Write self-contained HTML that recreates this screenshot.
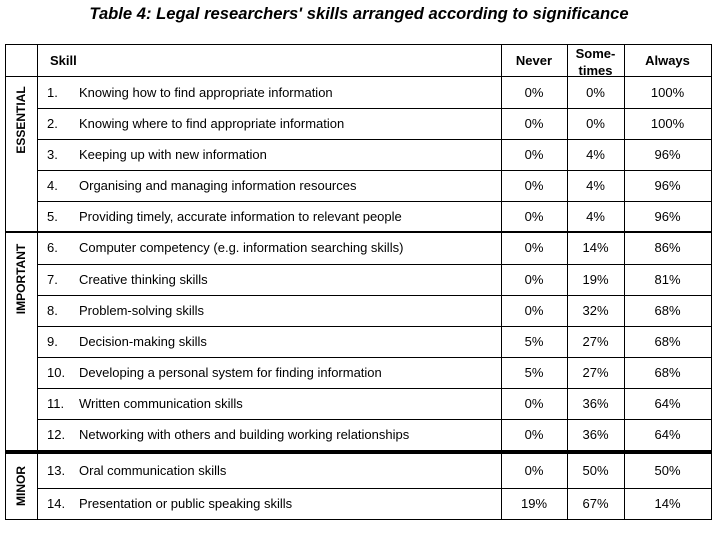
<!DOCTYPE html>
<html><head><meta charset="utf-8"><style>
body{margin:0;width:718px;height:527px;background:#fff;font-family:"Liberation Sans",Arial,sans-serif;color:#000;position:relative;overflow:hidden}
.title{position:absolute;top:4px;left:0;width:718px;text-align:center;font-size:16.6px;font-weight:bold;font-style:italic}
.h{position:absolute;background:#000}
.t{position:absolute;font-size:13px;white-space:nowrap;line-height:15px}
.c{text-align:center}
.b{font-weight:bold}
.v{position:absolute;font-size:12px;font-weight:bold;transform:rotate(-90deg);transform-origin:center;white-space:nowrap;text-align:center;width:120px;line-height:14px}
</style></head><body>
<div class="title">Table 4: Legal researchers' skills arranged according to significance</div>
<div id="tbl"></div>
<script>
const skills=["Knowing how to find appropriate information","Knowing where to find appropriate information","Keeping up with new information","Organising and managing information resources","Providing timely, accurate information to relevant people","Computer competency (e.g. information searching skills)","Creative thinking skills","Problem-solving skills","Decision-making skills","Developing a personal system for finding information","Written communication skills","Networking with others and building working relationships","Oral communication skills","Presentation or public speaking skills"];
const never=[0,0,0,0,0,0,0,0,5,5,0,0,0,19];
const sometimes=[0,0,4,4,4,14,19,32,27,27,36,36,50,67];
const always=[100,100,96,96,96,86,81,68,68,68,64,64,50,14];
const tbl=document.getElementById('tbl');
function line(x,y,w,h,name){const d=document.createElement('div');d.className='h';d.style.cssText=`left:${x}px;top:${y}px;width:${w}px;height:${h}px`;


tbl.appendChild(d);}
function txt(x,y,w,s,cls,name){const d=document.createElement('div');d.className='t '+(cls||'');d.style.left=x+'px';d.style.top=y+'px';if(w)d.style.width=w+'px';d.textContent=s;


tbl.appendChild(d);return d;}
const tops=[77,108,139,170,201,232,264,295,326,357,388,419,454,488];
const bots=[108,139,170,201,232,264,295,326,357,388,419,450,488,519];
line(5,44,707,1,'top-border');line(5,44,1,476,'left-border');line(711,44,1,476,'right-border');line(5,519,707,1,'bottom-border');
line(37,44,1,476,'group-divider');line(501,44,1,476,'never-divider');line(567,44,1,476,'sometimes-divider');line(624,44,1,476,'always-divider');
line(5,76,707,1,'header-rule');
for(let i=0;i<14;i++){
  if(i!==4&&i!==11&&i!==13) line(37,bots[i],675,1,'row-rule');
  const ty=Math.round((tops[i]+bots[i])/2)-8;
  txt(47,ty,0,(i+1)+'.','', 'skill-number');
  txt(79,ty,0,skills[i],'','skill-name');
  txt(501,ty,66,never[i]+'%','c','never-value');
  txt(567,ty,57,sometimes[i]+'%','c','sometimes-value');
  txt(624,ty,87,always[i]+'%','c','always-value');
}
line(5,231,707,2,'essential-rule');
line(5,450,707,4,'important-rule');
txt(50,53,0,'Skill','b','skill-header');
txt(501,53,66,'Never','c b','never-header');
const s=txt(567,45,57,'Some-\ntimes','c b','sometimes-header');s.style.whiteSpace='pre';s.style.lineHeight='17px';
txt(624,53,87,'Always','c b','always-header');
function vl(label,cy,name){const d=document.createElement('div');d.className='v';d.textContent=label;d.style.left=(21-60)+'px';d.style.top=(cy-7)+'px';


tbl.appendChild(d);}
vl('ESSENTIAL',120,'essential-label');vl('IMPORTANT',279,'important-label');vl('MINOR',486,'minor-label');
</script>
</body></html>
